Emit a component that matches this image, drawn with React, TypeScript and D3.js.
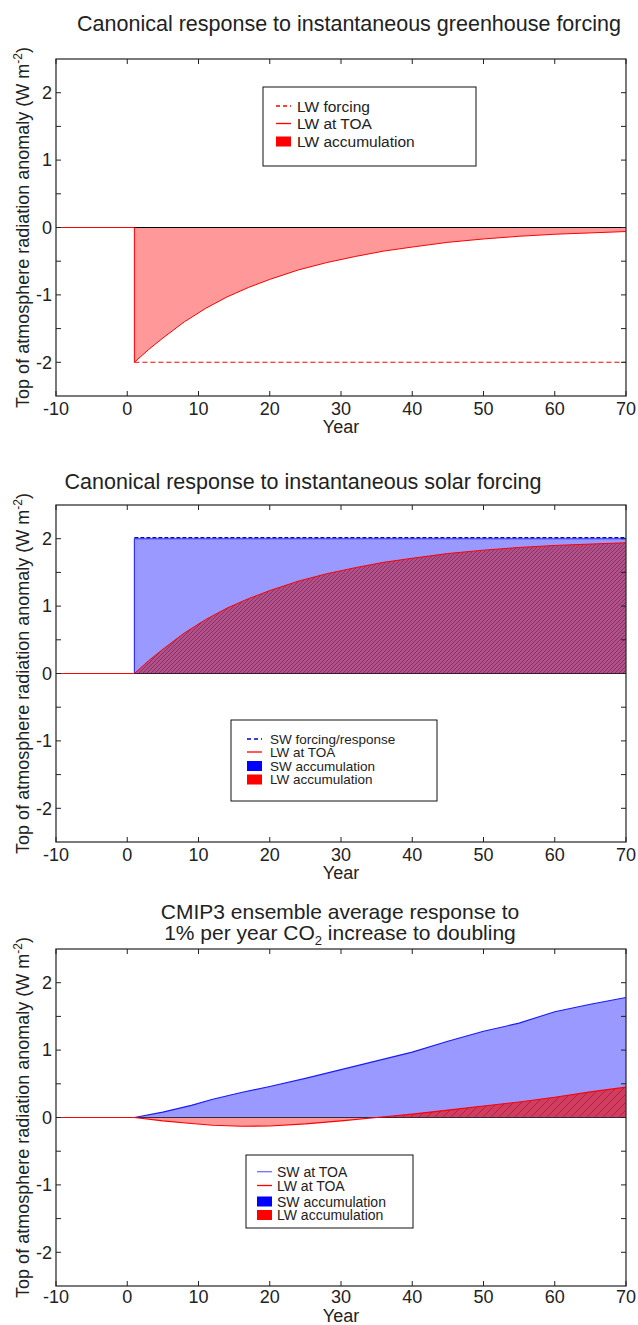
import * as d3 from "d3";

const W = 638;
const H = 1325;
const left = 56;
const right = 626;
const font = "'Liberation Sans', Arial, Helvetica, sans-serif";
const ink = "#222";

// panel 1: greenhouse forcing
const ghgYears = [-10, 1, 1, 3, 5, 8, 11, 14, 17, 20, 24, 28, 32, 36, 40, 45, 50, 55, 60, 65, 70];
const ghgLwToa = [0, 0, -2.0, -1.81, -1.64, -1.4, -1.2, -1.03, -0.89, -0.77, -0.63, -0.52, -0.43, -0.35, -0.29, -0.22, -0.17, -0.13, -0.1, -0.08, -0.06];
const ghgForcingYears = [1, 70];
const ghgLwForcing = [-2, -2];

// panel 2: solar forcing
const solarYears = [-10, 1, 3, 5, 8, 11, 14, 17, 20, 24, 28, 32, 36, 40, 45, 50, 55, 60, 65, 70];
const solarLwToa = [0, 0, 0.19, 0.36, 0.6, 0.8, 0.97, 1.11, 1.23, 1.37, 1.48, 1.57, 1.65, 1.71, 1.78, 1.83, 1.87, 1.9, 1.92, 1.94];
const solarSwYears = [-10, 1, 1, 70];
const solarSw = [0, 0, 2, 2];

// panel 3: CMIP3 1%/yr CO2
const cmipYears = [-10, 1, 5, 9, 12, 16, 20, 25, 30, 35, 40, 45, 50, 55, 60, 65, 70];
const cmipSw = [0, 0, 0.08, 0.18, 0.27, 0.37, 0.46, 0.58, 0.71, 0.84, 0.97, 1.13, 1.28, 1.4, 1.57, 1.68, 1.78];
const cmipLw = [0, 0, -0.05, -0.09, -0.115, -0.13, -0.125, -0.095, -0.05, 0.0, 0.05, 0.11, 0.17, 0.23, 0.3, 0.38, 0.45];

const xTickValues = [-10, 0, 10, 20, 30, 40, 50, 60, 70];
const yTickValues = [-2, -1.5, -1, -0.5, 0, 0.5, 1, 1.5, 2];

const x = d3.scaleLinear().domain([-10, 70]).range([left, right]);

type Pt = [number, number];
const zip = (a: number[], b: number[]): Pt[] => a.map((v, i) => [v, b[i]]);

type Item = { kind: "line" | "dash" | "patch"; color: string; label: string };

function Legend({ bx, by, bw, bh, rows, sx, tx, fs, items }: {
  bx: number; by: number; bw: number; bh: number; rows: number[]; sx: number; tx: number; fs: number; items: Item[];
}) {
  return (
    <g>
      <rect x={bx} y={by} width={bw} height={bh} fill="white" stroke="#111" strokeWidth={1} />
      {items.map((it, i) => {
        const cy = by + rows[i];
        return (
          <g key={i}>
            {it.kind === "patch" ? (
              <rect x={sx} y={cy - 5} width={15} height={10} fill={it.color} />
            ) : (
              <line x1={sx} x2={sx + 15} y1={cy} y2={cy} stroke={it.color} strokeWidth={1.3}
                strokeDasharray={it.kind === "dash" ? "4,3" : undefined} />
            )}
            <text x={tx} y={cy} dominantBaseline="central" fontSize={fs} fill={ink}>{it.label}</text>
          </g>
        );
      })}
    </g>
  );
}

function Panel({ id, top, bottom, tickGap, yearGap, title, children }: {
  id: string; top: number; bottom: number; tickGap: number; yearGap: number; title: React.ReactNode;
  children: (y: d3.ScaleLinear<number, number>) => React.ReactNode;
}) {
  const y = d3.scaleLinear().domain([-2.5, 2.5]).range([bottom, top]);
  const mid = (top + bottom) / 2;
  return (
    <g>
      <defs>
        <clipPath id={`plot-${id}`}>
          <rect x={left} y={top} width={right - left} height={bottom - top} />
        </clipPath>
      </defs>
      {title}
      <g clipPath={`url(#plot-${id})`}>{children(y)}</g>
      <rect x={left} y={top} width={right - left} height={bottom - top} fill="none" stroke="#333" strokeWidth={1.3} />
      {xTickValues.map((t) => (
        <g key={t}>
          <line x1={x(t)} x2={x(t)} y1={bottom} y2={bottom - 5} stroke="#222" />
          <line x1={x(t)} x2={x(t)} y1={top} y2={top + 5} stroke="#222" />
          <text x={x(t)} y={bottom + tickGap} textAnchor="middle" fontSize={18} fill={ink}>{t}</text>
        </g>
      ))}
      {yTickValues.map((t) => (
        <g key={t}>
          <line x1={left} x2={left + 5} y1={y(t)} y2={y(t)} stroke="#222" />
          <line x1={right} x2={right - 5} y1={y(t)} y2={y(t)} stroke="#222" />
          {Number.isInteger(t) && (
            <text x={left - 4} y={y(t)} dy="0.35em" textAnchor="end" fontSize={18} fill={ink}>{t}</text>
          )}
        </g>
      ))}
      <text x={(left + right) / 2} y={bottom + yearGap} textAnchor="middle" fontSize={18} fill={ink}>Year</text>
      <text transform={`translate(29,${mid}) rotate(-90)`} textAnchor="middle" fontSize={18} fill={ink}>
        <tspan>Top of atmosphere radiation anomaly (W m</tspan>
        <tspan dy={-7} fontSize={12}>-2</tspan>
        <tspan dy={7}>)</tspan>
      </text>
    </g>
  );
}

// LW accumulation: plain pink below zero, hatched (overlap colour) above zero
function LwAccum({ id, y, pts, hatch }: { id: string; y: d3.ScaleLinear<number, number>; pts: Pt[]; hatch: string }) {
  const area = d3.area<Pt>().x((d) => x(d[0])).y0(y(0)).y1((d) => y(d[1]));
  const [b, t] = y.range();
  return (
    <g>
      <defs>
        <clipPath id={`above-${id}`}><rect x={left} y={t} width={right - left} height={y(0) - t} /></clipPath>
        <clipPath id={`below-${id}`}><rect x={left} y={y(0)} width={right - left} height={b - y(0)} /></clipPath>
      </defs>
      <path d={area(pts) || ""} fill="#ff9999" clipPath={`url(#below-${id})`} />
      <path d={area(pts) || ""} fill={hatch} clipPath={`url(#above-${id})`} />
    </g>
  );
}

export default function App() {
  const line = (y: d3.ScaleLinear<number, number>) =>
    d3.line<Pt>().x((d) => x(d[0])).y((d) => y(d[1]));
  const p1 = { top: 59, bottom: 396 };
  const p2 = { top: 505, bottom: 842 };
  const p3 = { top: 949, bottom: 1286 };

  return (
    <svg width={W} height={H} style={{ position: "absolute", left: 0, top: 0, background: "white" }}
      fontFamily={font}>
      <defs>
        <pattern id="hatchSolar" width={4} height={4} patternUnits="userSpaceOnUse">
          <rect width={4} height={4} fill="#b2508a" />
          <path d="M-1,1 L1,-1 M0,4 L4,0 M3,5 L5,3" stroke="#7c2c5e" strokeWidth={0.8} />
        </pattern>
        <pattern id="hatchCmip" width={8} height={8} patternUnits="userSpaceOnUse">
          <rect width={8} height={8} fill="#d23c5e" />
          <path d="M-1,1 L1,-1 M0,8 L8,0 M7,9 L9,7" stroke="#9c2040" strokeWidth={0.8} />
        </pattern>
      </defs>

      {/* Panel 1 */}
      <Panel id="ghg" {...p1} tickGap={19} yearGap={37}
        title={<text x={349} y={31} textAnchor="middle" fontSize={21.5} fill={ink}>
          Canonical response to instantaneous greenhouse forcing</text>}>
        {(y) => {
          const lw = zip(ghgYears, ghgLwToa);
          return (
            <g>
              <LwAccum id="ghg" y={y} pts={lw} hatch="#ff9999" />
              <line x1={x(-10)} x2={x(70)} y1={y(0)} y2={y(0)} stroke="#000" strokeWidth={1.2} />
              <path d={line(y)(zip(ghgForcingYears, ghgLwForcing)) || ""} fill="none" stroke="#ff0000"
                strokeWidth={1.1} strokeDasharray="5,3" />
              <path d={line(y)(lw) || ""} fill="none" stroke="#ff0000" strokeWidth={1} />
            </g>
          );
        }}
      </Panel>
      <Legend bx={263} by={87} bw={213} bh={79} rows={[19, 36.5, 54.5]} sx={276} tx={297} fs={15.5}
        items={[
          { kind: "dash", color: "#ff0000", label: "LW forcing" },
          { kind: "line", color: "#ff0000", label: "LW at TOA" },
          { kind: "patch", color: "#ff0000", label: "LW accumulation" },
        ]} />

      {/* Panel 2 */}
      <Panel id="solar" {...p2} tickGap={19} yearGap={37}
        title={<text x={303} y={489} textAnchor="middle" fontSize={21.5} fill={ink}>
          Canonical response to instantaneous solar forcing</text>}>
        {(y) => {
          const sw = zip(solarSwYears, solarSw);
          const lw = zip(solarYears, solarLwToa);
          const area = d3.area<Pt>().x((d) => x(d[0])).y0(y(0)).y1((d) => y(d[1]));
          return (
            <g>
              <path d={area(sw) || ""} fill="#9999ff" />
              <LwAccum id="solar" y={y} pts={lw} hatch="url(#hatchSolar)" />
              <path d={line(y)(sw) || ""} fill="none" stroke="#2a2aff" strokeWidth={1.1} />
              <line x1={x(1)} x2={x(70)} y1={y(0)} y2={y(0)} stroke="#3a1a30" strokeWidth={1.2} />
              <path d={line(y)(sw.slice(2)) || ""} fill="none" stroke="#0000cc" strokeWidth={1.2}
                strokeDasharray="4,2" transform="translate(0,-1)" />
              <path d={line(y)(lw) || ""} fill="none" stroke="#ff0000" strokeWidth={1} />
            </g>
          );
        }}
      </Panel>
      <Legend bx={231} by={720} bw={206} bh={81} rows={[19, 32, 46, 59.5]} sx={247} tx={270} fs={13.5}
        items={[
          { kind: "dash", color: "#0000cc", label: "SW forcing/response" },
          { kind: "line", color: "#ff0000", label: "LW at TOA" },
          { kind: "patch", color: "#0000ff", label: "SW accumulation" },
          { kind: "patch", color: "#ff0000", label: "LW accumulation" },
        ]} />

      {/* Panel 3 */}
      <Panel id="cmip" {...p3} tickGap={17} yearGap={35.5}
        title={<text textAnchor="middle" fontSize={21} fill={ink}>
          <tspan x={340} y={919}>CMIP3 ensemble average response to</tspan>
          <tspan x={340} y={940}>1% per year CO</tspan>
          <tspan dy={5} fontSize={13}>2</tspan>
          <tspan dy={-5}> increase to doubling</tspan>
        </text>}>
        {(y) => {
          const sw = zip(cmipYears, cmipSw);
          const lw = zip(cmipYears, cmipLw);
          const area = d3.area<Pt>().x((d) => x(d[0])).y0(y(0)).y1((d) => y(d[1]));
          return (
            <g>
              <path d={area(sw) || ""} fill="#9999ff" />
              <LwAccum id="cmip" y={y} pts={lw} hatch="url(#hatchCmip)" />
              <line x1={x(-10)} x2={x(70)} y1={y(0)} y2={y(0)} stroke="#3a2a3a" strokeWidth={1.2} />
              <path d={line(y)(sw) || ""} fill="none" stroke="#1a1aff" strokeWidth={1.1} />
              <path d={line(y)(lw) || ""} fill="none" stroke="#ff0000" strokeWidth={1.1} />
            </g>
          );
        }}
      </Panel>
      <Legend bx={246} by={1155} bw={167} bh={73} rows={[16.7, 30.5, 46.5, 60]} sx={257} tx={277} fs={14}
        items={[
          { kind: "line", color: "#7070ff", label: "SW at TOA" },
          { kind: "line", color: "#ff0000", label: "LW at TOA" },
          { kind: "patch", color: "#0000ff", label: "SW accumulation" },
          { kind: "patch", color: "#ff0000", label: "LW accumulation" },
        ]} />
    </svg>
  );
}
